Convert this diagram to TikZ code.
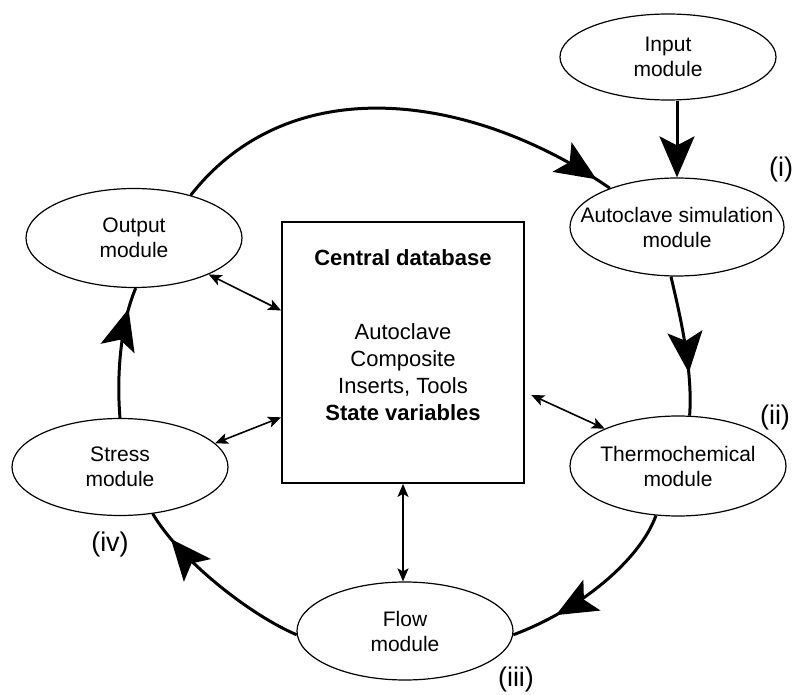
\documentclass[tikz,border=0pt]{standalone}
\usepackage{fontspec}
\setmainfont{Liberation Sans}
\usetikzlibrary{shapes.geometric,arrows.meta,decorations.markings}

\tikzset{
  bigtip/.tip={Stealth[length=41pt,width=35pt,inset=9pt]},
  smalltip/.tip={Stealth[length=13pt,width=11pt,inset=3pt]},
  module/.style={ellipse, draw, line width=1.2pt, minimum width=216pt,
    minimum height=98pt, inner sep=0pt},
  modtext/.style={align=center, inner sep=0pt, font=\fontsize{21}{25}\selectfont},
  dbtext/.style={align=center, inner sep=0pt, font=\fontsize{22}{27}\selectfont},
  tag/.style={inner sep=0pt, font=\fontsize{27}{27}\selectfont},
  cyc/.style={line width=3pt, postaction={decorate,
    decoration={markings, mark=at position -#1 with {\arrow{bigtip}}}}},
  link/.style={line width=1.6pt, smalltip-smalltip},
}

\begin{document}
\begin{tikzpicture}[x=1pt,y=-1pt]
\useasboundingbox (0,0) rectangle (793,695);

% modules around the cycle
\node[module, minimum height=86pt, label={[modtext]center:Input\\module}] (input) at (668,57) {};
\node[module, minimum width=214pt, label={[modtext]center:Autoclave simulation\\module}] (auto) at (677,227) {};
\node[module, minimum height=100pt, label={[modtext]center:Thermochemical\\module}] (thermo) at (678,466) {};
\node[module, label={[modtext]center:Flow\\module}] (flow) at (405,631) {};
\node[module, minimum height=97pt, label={[modtext]center:Stress\\module}] (stress) at (120,467) {};
\node[module, minimum height=99pt, label={[modtext]center:Output\\module}] (out) at (134,238) {};

% central database
\node[draw, line width=1.8pt, minimum width=242pt, minimum height=261pt, inner sep=0pt] (db) at (403,352.5) {};
\node[dbtext, font=\fontsize{22}{27}\selectfont\bfseries] (dbtitle) at (403,258) {Central database};
\node[dbtext] (dblist) at (403,372.5) {Autoclave\\Composite\\Inserts, Tools\\\textbf{State variables}};

% stage labels
\node[tag] (ti) at (781,170) {(i)};
\node[tag] (tii) at (775,418) {(ii)};
\node[tag] (tiii) at (516,680) {(iii)};
\node[tag] (tiv) at (110,545) {(iv)};

% main processing cycle
\draw[line width=3pt, -{bigtip}] (input.south -| auto.north) -- (auto.north);
\draw[cyc=16pt] (out.37) .. controls (292,66) and (475,95) .. (auto.150);
\draw[cyc=43pt] (auto.263) .. controls (680,315) and (693,370) .. (thermo.77);
\draw[cyc=47pt] (thermo.246) .. controls (640,560) and (580,610) .. (flow.-2);
\draw[cyc=31pt] (flow.182) .. controls (250,615) and (180,560) .. (stress.-55);
\draw[cyc=22pt] (stress.90) .. controls (116,370) and (122,320) .. (out.272);

% data exchange with the database
\draw[link] (out.-26) -- (db.161.5);
\draw[link] (stress.14) -- (db.208.3);
\draw[link, shorten <=7pt] (db.-18.5) -- (thermo.153.4);
\draw[link] (db.south) -- (flow.north -| db.south);
\end{tikzpicture}
\end{document}
